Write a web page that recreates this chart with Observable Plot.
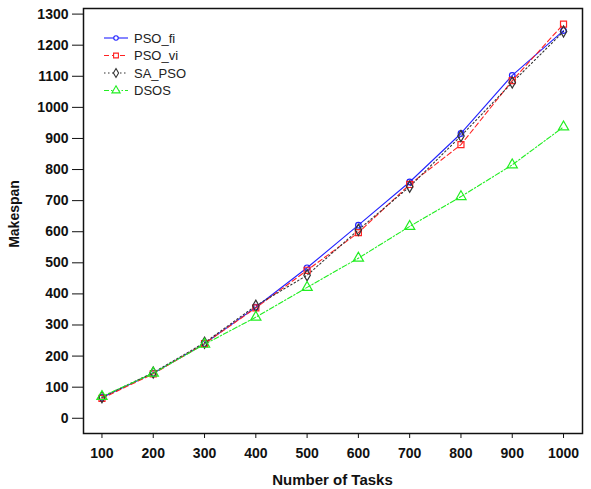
<!DOCTYPE html>
<html>
<head>
<meta charset="utf-8">
<script src="https://cdn.jsdelivr.net/npm/d3@7"></script>
<script src="https://cdn.jsdelivr.net/npm/@observablehq/plot@0.6"></script>
<style>
  html, body { margin: 0; padding: 0; background: #ffffff; }
  #chart { position: relative; width: 591px; height: 489px; }
  svg { font-family: "Liberation Sans", Arial, sans-serif; }
</style>
</head>
<body>
<div id="chart"></div>
<script>
const tasks = [100, 200, 300, 400, 500, 600, 700, 800, 900, 1000];
const psoFi = [67, 145, 240, 357, 484, 621, 760, 916, 1103, 1247];
const psoVi = [64, 143, 240, 355, 476, 597, 752, 880, 1086, 1268];
const saPso = [68, 147, 243, 362, 460, 606, 745, 908, 1080, 1244];
const dsos  = [70, 145, 238, 325, 421, 515, 617, 713, 815, 937];
const yTicks = d3.range(0, 1301, 100);
const xLabel = "Number of Tasks";
const yLabel = "Makespan";

const seriesNames = ["PSO_fi", "PSO_vi", "SA_PSO", "DSOS"];
const seriesValues = [psoFi, psoVi, saPso, dsos];
const seriesColors = ["#2222ff", "#ff2222", "#333333", "#22ee22"];
const seriesDash = [null, "5,3", "1.5,2.5", "5,2,1.5,2"];
const seriesSymbols = ["circle", "square", "diamond", "triangle"];
const seriesR = [2.8, 3.4, 3.4, 3.8];

const rows = [];
seriesNames.forEach((name, i) => {
  tasks.forEach((t, j) => rows.push({series: name, x: t, y: seriesValues[i][j], i}));
});

const marks = [Plot.frame({stroke: "#111", strokeWidth: 1.5})];
seriesNames.forEach((name, i) => {
  const d = rows.filter(r => r.series === name);
  marks.push(Plot.line(d, {x: "x", y: "y", stroke: seriesColors[i], strokeWidth: 1.1, strokeDasharray: seriesDash[i]}));
});
seriesNames.forEach((name, i) => {
  const d = rows.filter(r => r.series === name);
  marks.push(Plot.dot(d, {x: "x", y: "y", stroke: seriesColors[i], fill: "none", strokeWidth: 1.2, symbol: seriesSymbols[i], r: seriesR[i]}));
});

const plot = Plot.plot({
  width: 591,
  height: 489,
  marginLeft: 83,
  marginRight: 9,
  marginTop: 8,
  marginBottom: 56,
  style: {background: "transparent", color: "#111", fontSize: "14px", fontWeight: "bold"},
  x: {domain: [64, 1037], ticks: tasks, tickSize: 5, tickPadding: 10, tickFormat: d => String(d), label: null},
  y: {domain: [-49, 1318], ticks: yTicks, tickSize: 11, tickPadding: 4, tickFormat: d => String(d), label: null},
  marks
});
document.getElementById("chart").appendChild(plot);

const svg = d3.select(plot);

svg.append("text")
  .attr("x", 83 + (591 - 9 - 83) / 2).attr("y", 485)
  .attr("text-anchor", "middle")
  .style("font-size", "15px").style("font-weight", "bold").attr("fill", "#111")
  .text(xLabel);
svg.append("text")
  .attr("transform", "translate(19,214) rotate(-90)")
  .attr("text-anchor", "middle")
  .style("font-size", "14px").style("font-weight", "bold").attr("fill", "#111")
  .text(yLabel);

const leg = svg.append("g");
const symMap = {circle: d3.symbolCircle, square: d3.symbolSquare, diamond: d3.symbolDiamond, triangle: d3.symbolTriangle};
seriesNames.forEach((name, i) => {
  const yy = 38 + i * 17.5;
  leg.append("line").attr("x1", 104).attr("x2", 128).attr("y1", yy).attr("y2", yy)
    .attr("stroke", seriesColors[i]).attr("stroke-width", 1.1)
    .attr("stroke-dasharray", seriesDash[i]);
  const r = seriesR[i] * 0.8;
  leg.append("path").attr("transform", `translate(116,${yy})`)
    .attr("d", d3.symbol(symMap[seriesSymbols[i]], Math.PI * r * r)())
    .attr("fill", "white").attr("stroke", seriesColors[i]).attr("stroke-width", 1.1);
  leg.append("text").attr("x", 134).attr("y", yy).attr("dy", "0.35em")
    .attr("text-anchor", "start")
    .style("font-size", "13px").style("font-weight", "normal").attr("fill", "#222").text(name);
});
</script>
</body>
</html>
